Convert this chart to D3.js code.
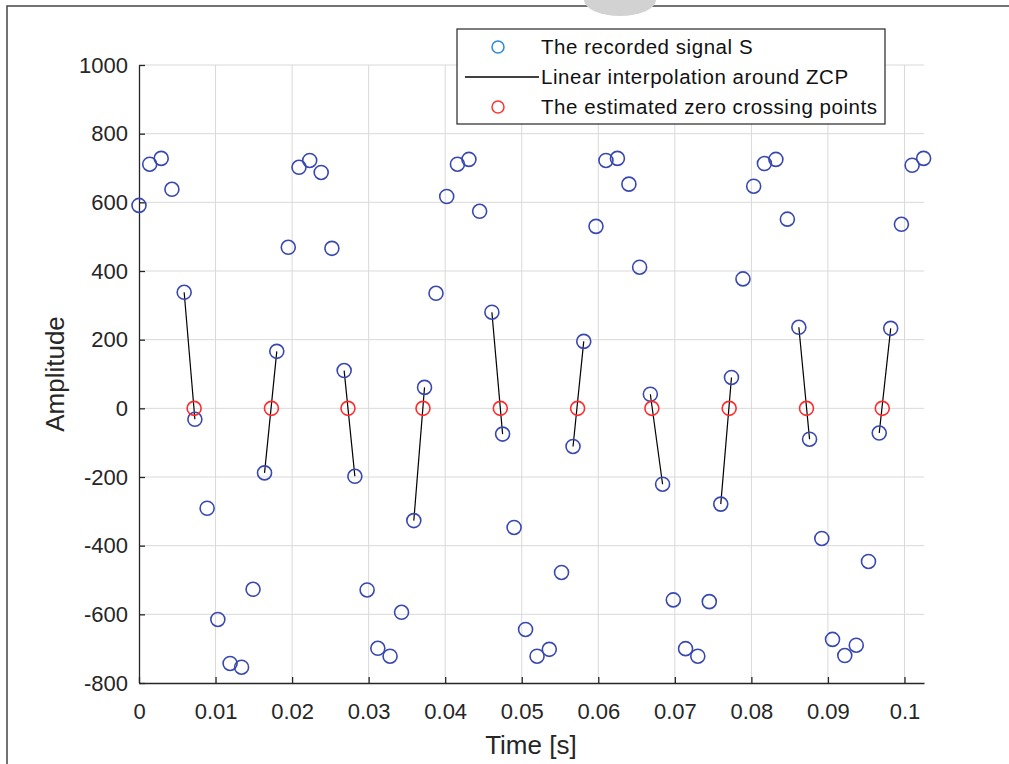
<!DOCTYPE html>
<html>
<head>
<meta charset="utf-8">
<script src="https://cdn.jsdelivr.net/npm/d3@7"></script>
<style>
  body { margin: 0; background: #fff; }
  svg { display: block; font-family: "Liberation Sans", Arial, sans-serif; }
</style>
</head>
<body>
<svg width="1009" height="764"></svg>
<script>
// Recorded signal S: sample times (s) and amplitudes
const sampleTimes = [
  0.0000, 0.0014, 0.0029, 0.0043, 0.0059, 0.0073, 0.0089, 0.0103, 0.0119, 0.0134,
  0.0149, 0.0164, 0.0180, 0.0195, 0.0209, 0.0223, 0.0238, 0.0252, 0.0268, 0.0282,
  0.0298, 0.0312, 0.0328, 0.0343, 0.0359, 0.0373, 0.0388, 0.0402, 0.0416, 0.0431,
  0.0445, 0.0461, 0.0475, 0.0490, 0.0505, 0.0520, 0.0536, 0.0552, 0.0567, 0.0581,
  0.0597, 0.0610, 0.0625, 0.0640, 0.0654, 0.0668, 0.0684, 0.0698, 0.0714, 0.0730,
  0.0745, 0.0760, 0.0774, 0.0789, 0.0803, 0.0817, 0.0832, 0.0847, 0.0862, 0.0876,
  0.0892, 0.0906, 0.0922, 0.0937, 0.0953, 0.0967, 0.0982, 0.0996, 0.1010, 0.1025
];
const sampleValues = [
   591,  711,  728,  638,  338,  -32, -291, -615, -743, -754,
  -527, -188,  166,  469,  702,  722,  687,  466,  110, -198,
  -529, -699, -722, -594, -327,   61,  335,  617,  711,  725,
   574,  280,  -75, -347, -644, -722, -702, -478, -111,  195,
   530,  722,  728,  653,  411,   41, -221, -558, -700, -722,
  -563, -279,   90,  377,  647,  713,  725,  551,  236,  -90,
  -379, -673, -720, -690, -446,  -72,  233,  536,  708,  728
];

// Pairs of samples (indices) joined by the interpolation segment around each ZCP
const zcpPairs = [[4, 5], [11, 12], [18, 19], [24, 25], [31, 32], [38, 39], [45, 46], [51, 52], [58, 59], [65, 66]];

// Estimated zero crossing points (s)
const zcpTimes = [0.0072, 0.0173, 0.0273, 0.0371, 0.0472, 0.0573, 0.0670, 0.0771, 0.0872, 0.0971];

// Axis ticks
const xTicks = [0, 0.01, 0.02, 0.03, 0.04, 0.05, 0.06, 0.07, 0.08, 0.09, 0.1];
const yTicks = [-800, -600, -400, -200, 0, 200, 400, 600, 800, 1000];

const legendItems = [
  { label: "The recorded signal S", type: "circle", color: "#2a8ad8" },
  { label: "Linear interpolation around ZCP", type: "line", color: "#000" },
  { label: "The estimated zero crossing points", type: "circle", color: "#ff3333" }
];

const svg = d3.select("svg");

// Figure frame and the gray tab at the top
svg.append("rect")
  .attr("x", 7).attr("y", 6)
  .attr("width", 1020).attr("height", 780)
  .attr("fill", "none").attr("stroke", "#444").attr("stroke-width", 1.5);
svg.append("ellipse")
  .attr("cx", 620).attr("cy", 0).attr("rx", 36).attr("ry", 16)
  .attr("fill", "#d2d2d2");

const margin = { left: 139, right: 85, top: 65, bottom: 81 };
const width = 1009 - margin.left - margin.right;
const height = 764 - margin.top - margin.bottom;

const x = d3.scaleLinear().domain([0, 0.10255]).range([0, width]);
const y = d3.scaleLinear().domain([-800, 1000]).range([height, 0]);

const g = svg.append("g").attr("transform", `translate(${margin.left},${margin.top})`);

// Grid
g.append("g").selectAll("line")
  .data(xTicks.slice(1))
  .join("line")
  .attr("x1", d => x(d)).attr("x2", d => x(d))
  .attr("y1", 0).attr("y2", height)
  .attr("stroke", "#d9d9d9").attr("stroke-width", 1);
g.append("g").selectAll("line")
  .data(yTicks.slice(1))
  .join("line")
  .attr("x1", 0).attr("x2", width)
  .attr("y1", d => y(d)).attr("y2", d => y(d))
  .attr("stroke", "#d9d9d9").attr("stroke-width", 1);

// Axes (MATLAB style: ticks pointing inward)
const xAxis = g.append("g")
  .attr("transform", `translate(0,${height})`)
  .call(d3.axisBottom(x).tickValues(xTicks).tickFormat(d => d === 0 ? "0" : d3.format("~g")(d))
    .tickSizeInner(-6).tickSizeOuter(0).tickPadding(20));
const yAxis = g.append("g")
  .call(d3.axisLeft(y).tickValues(yTicks).tickFormat(d => String(d))
    .tickSizeInner(-6).tickSizeOuter(0).tickPadding(11));

[xAxis, yAxis].forEach(ax => {
  ax.select(".domain").attr("stroke", "#262626").attr("stroke-width", 1.3);
  ax.selectAll(".tick line").attr("stroke", "#262626").attr("stroke-width", 1.3);
  ax.selectAll(".tick text")
    .attr("fill", "#262626")
    .style("font-size", "22px")
    .style("font-family", "'Liberation Sans', Arial, sans-serif");
});

// Axis labels
svg.append("text")
  .attr("x", margin.left + x(0.0512)).attr("y", 754)
  .attr("text-anchor", "middle")
  .attr("fill", "#262626")
  .style("font-size", "26px")
  .text("Time [s]");
svg.append("text")
  .attr("transform", `translate(64,${margin.top + y(100)}) rotate(-90)`)
  .attr("text-anchor", "middle")
  .attr("fill", "#262626")
  .style("font-size", "26px")
  .text("Amplitude");

// Interpolation segments around each ZCP
g.append("g").selectAll("line")
  .data(zcpPairs)
  .join("line")
  .attr("x1", d => x(sampleTimes[d[0]])).attr("y1", d => y(sampleValues[d[0]]))
  .attr("x2", d => x(sampleTimes[d[1]])).attr("y2", d => y(sampleValues[d[1]]))
  .attr("stroke", "#000").attr("stroke-width", 1.2);

// Recorded samples
g.append("g").selectAll("circle")
  .data(sampleTimes)
  .join("circle")
  .attr("cx", d => x(d))
  .attr("cy", (d, i) => y(sampleValues[i]))
  .attr("r", 7)
  .attr("fill", "none")
  .attr("stroke", "#3848b0")
  .attr("stroke-width", 1.6);

// Estimated zero crossing points
g.append("g").selectAll("circle")
  .data(zcpTimes)
  .join("circle")
  .attr("cx", d => x(d))
  .attr("cy", y(0))
  .attr("r", 7)
  .attr("fill", "none")
  .attr("stroke", "#ff2a2a")
  .attr("stroke-width", 1.6);

// Legend
const legend = svg.append("g").attr("transform", "translate(457,29)");
legend.append("rect")
  .attr("width", 428).attr("height", 95)
  .attr("fill", "#fff").attr("stroke", "#262626").attr("stroke-width", 1.2);
const rows = legend.selectAll("g.row")
  .data(legendItems)
  .join("g")
  .attr("class", "row")
  .attr("transform", (d, i) => `translate(0,${18 + i * 30})`);
rows.filter(d => d.type === "circle").append("circle")
  .attr("cx", 41).attr("cy", 0).attr("r", 6)
  .attr("fill", "none").attr("stroke", d => d.color).attr("stroke-width", 1.5);
rows.filter(d => d.type === "line").append("line")
  .attr("x1", 8).attr("x2", 82).attr("y1", 0).attr("y2", 0)
  .attr("stroke", d => d.color).attr("stroke-width", 1.3);
rows.append("text")
  .attr("x", 84).attr("y", 0).attr("dy", "0.35em")
  .attr("fill", "#111")
  .style("font-size", "20.5px")
  .style("letter-spacing", "0.55px")
  .text(d => d.label);
</script>
</body>
</html>
